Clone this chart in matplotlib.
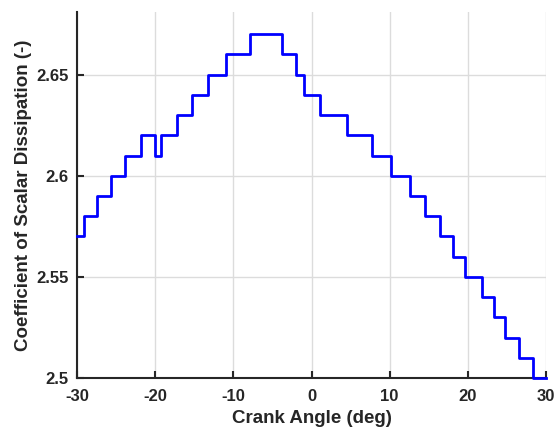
import matplotlib
matplotlib.use("Agg")
import matplotlib.pyplot as plt

# Step edges (crank angle, deg) and levels of the coefficient
crank_edges = [-30.0, -29.1, -27.4, -25.7, -23.8, -21.8, -20.0, -19.2, -17.2, -15.3,
               -13.3, -11.0, -7.9, -3.8, -2.0, -0.9, 1.1, 4.6, 7.7, 10.2,
               12.6, 14.5, 16.4, 18.1, 19.7, 21.8, 23.3, 24.7, 26.5, 28.4, 30.0]
csd_levels = [2.57, 2.58, 2.59, 2.60, 2.61, 2.62, 2.61, 2.62, 2.63, 2.64,
              2.65, 2.66, 2.67, 2.66, 2.65, 2.64, 2.63, 2.62, 2.61, 2.60,
              2.59, 2.58, 2.57, 2.56, 2.55, 2.54, 2.53, 2.52, 2.51, 2.50]

xticks = [-30, -20, -10, 0, 10, 20, 30]
xtick_labels = ["-30", "-20", "-10", "0", "10", "20", "30"]
yticks = [2.5, 2.55, 2.6, 2.65]
ytick_labels = ["2.5", "2.55", "2.6", "2.65"]

plt.rcParams['font.family'] = ['Liberation Sans', 'DejaVu Sans']
plt.rcParams['font.weight'] = 'bold'

fig = plt.figure(figsize=(5.54, 4.30), dpi=100)
ax = fig.add_axes([77/554, 1 - 378/430, (546 - 77)/554, (378 - 12)/430])

xs = crank_edges
ys = csd_levels + [csd_levels[-1]]
ax.plot(xs, ys, drawstyle='steps-post', color=(0, 0, 1), linewidth=2.0, zorder=3,
        clip_on=False)

ax.set_xlim(-30, 30)
ax.set_ylim(2.5, 2.681)
ax.set_xticks(xticks)
ax.set_xticklabels(xtick_labels)
ax.set_yticks(yticks)
ax.set_yticklabels(ytick_labels)

ax.grid(True, color='#dcdcdc', linewidth=1.0, zorder=0)
ax.set_axisbelow(True)
for s in ['top', 'right']:
    ax.spines[s].set_visible(False)
for s in ['left', 'bottom']:
    ax.spines[s].set_color('#262626')
    ax.spines[s].set_linewidth(1.5)

ax.tick_params(direction='in', length=5, width=1.5, colors='#262626',
               labelsize=12)
ax.tick_params(axis='y', pad=6)
ax.tick_params(axis='x', pad=8)
for lbl in ax.get_xticklabels() + ax.get_yticklabels():
    lbl.set_fontweight('bold')

ax.set_xlabel('Crank Angle (deg)', fontsize=13.5, fontweight='bold', color='#262626', labelpad=4)
ax.set_ylabel('Coefficient of Scalar Dissipation (-)', fontsize=13.5, fontweight='bold',
              color='#262626', labelpad=3)

fig.savefig('out.png', dpi=100)
